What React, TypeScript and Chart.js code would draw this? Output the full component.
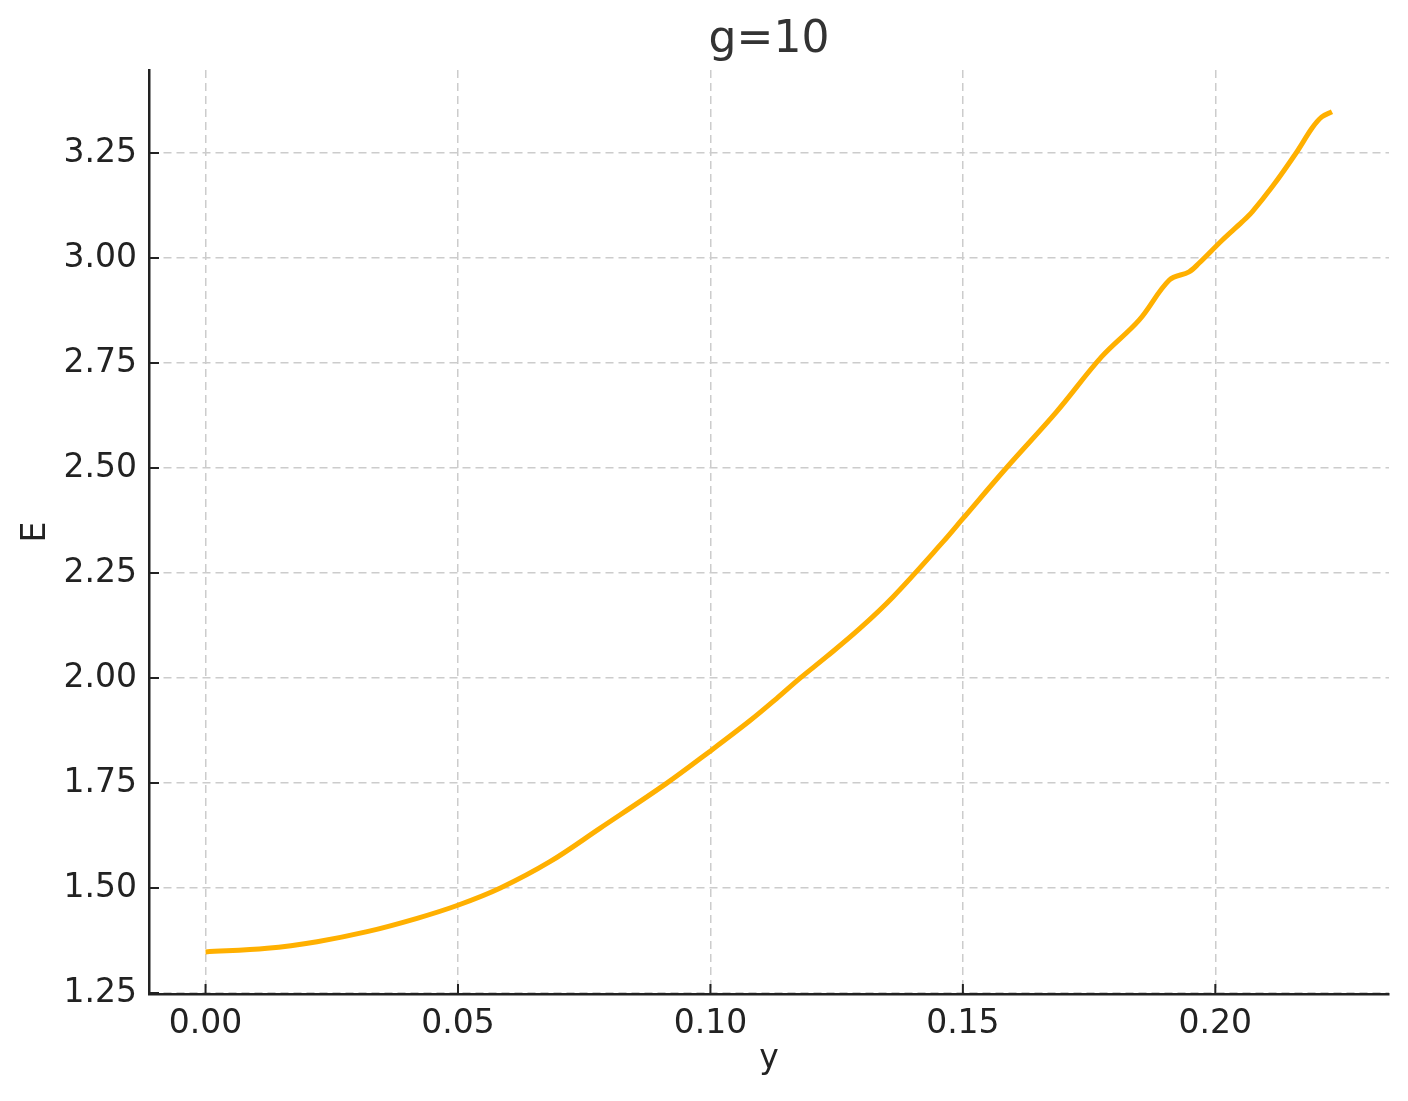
import React, { useEffect, useRef } from "react";
import { Chart, registerables } from "chart.js";

Chart.register(...registerables);

const xValues = [
  0, 0.0122, 0.0221, 0.032, 0.0419, 0.0501, 0.0584, 0.0682, 0.0781, 0.0913,
  0.0998, 0.1078, 0.1131, 0.1177, 0.123, 0.1296, 0.1362, 0.1461, 0.1499,
  0.1586, 0.1685, 0.1775, 0.1849, 0.1909, 0.1948, 0.1968, 0.2014, 0.2053, 0.2073,
  0.2113, 0.216, 0.2192, 0.2211, 0.2231,
];
const eValues = [
  1.3478, 1.3564, 1.3722, 1.396, 1.4278, 1.4595, 1.5, 1.5626, 1.642, 1.749,
  1.8245, 1.898, 1.951, 1.999, 2.0507, 2.118, 2.1936, 2.3245, 2.378,
  2.5, 2.633, 2.765, 2.852, 2.9476, 2.967, 2.988, 3.043, 3.086, 3.11,
  3.17, 3.25, 3.31, 3.336, 3.348,
];
const xTicks = [0, 0.05, 0.1, 0.15, 0.2];
const yTicks = [1.25, 1.5, 1.75, 2.0, 2.25, 2.5, 2.75, 3.0, 3.25];
const titleText = "g=10";
const xLabel = "y";
const yLabel = "E";

const FONT = "'DejaVu Sans', sans-serif";
const INK = "#222222";

const inwardTicks = {
  id: "inwardTicks",
  afterDraw(chart: any) {
    const { ctx, chartArea, scales } = chart;
    ctx.save();
    ctx.strokeStyle = INK;
    ctx.lineWidth = 2;
    ctx.beginPath();
    for (const t of scales.x.ticks) {
      const px = scales.x.getPixelForValue(t.value);
      ctx.moveTo(px, chartArea.bottom);
      ctx.lineTo(px, chartArea.bottom - 10);
    }
    for (const t of scales.y.ticks) {
      const py = scales.y.getPixelForValue(t.value);
      ctx.moveTo(chartArea.left, py);
      ctx.lineTo(chartArea.left + 10, py);
    }
    ctx.stroke();
    ctx.restore();
  },
};

export default function App() {
  const ref = useRef<HTMLCanvasElement | null>(null);
  useEffect(() => {
    document.body.style.margin = "0";
    const canvas = ref.current!;
    const data = xValues.map((x, i) => ({ x, y: eValues[i] }));
    const chart = new Chart(canvas, {
      type: "line",
      data: {
        datasets: [
          {
            data,
            borderColor: "#ffb000",
            borderWidth: 5,
            pointRadius: 0,
            tension: 0.35,
            fill: false,
          },
        ],
      },
      options: {
        animation: false,
        responsive: false,
        devicePixelRatio: 1,
        layout: { padding: { top: 0, right: 19, left: 0, bottom: 0 } },
        plugins: {
          legend: { display: false },
          tooltip: { enabled: false },
          title: {
            display: true,
            fullSize: false,
            text: titleText,
            color: "#333333",
            font: { family: FONT, size: 44, weight: "normal" },
            padding: { top: 14, bottom: 3.2 },
          },
        },
        scales: {
          x: {
            type: "linear",
            min: -0.0112,
            max: 0.2344,
            afterBuildTicks: (s: any) => {
              s.ticks = xTicks.map((v) => ({ value: v }));
            },
            afterFit: (s: any) => {
              s.height = 107;
            },
            grid: {
              color: "#cccccc",
              lineWidth: 1.5,
              drawTicks: false,
            },
            border: { display: true, color: INK, width: 2.5, dash: [8, 5] },
            ticks: {
              color: INK,
              padding: 11,
              font: { family: FONT, size: 33 },
              callback: (v: any) => Number(v).toFixed(2),
              maxRotation: 0,
            },
            title: {
              display: true,
              text: xLabel,
              color: INK,
              font: { family: FONT, size: 33 },
              padding: { bottom: 21.7, top: 0 },
            },
          },
          y: {
            type: "linear",
            min: 1.2476,
            max: 3.4476,
            afterBuildTicks: (s: any) => {
              s.ticks = yTicks.map((v) => ({ value: v }));
            },
            afterFit: (s: any) => {
              s.width = 149;
            },
            grid: {
              color: "#cccccc",
              lineWidth: 1.5,
              drawTicks: false,
            },
            border: { display: true, color: INK, width: 2.5, dash: [8, 5] },
            ticks: {
              color: INK,
              padding: 12,
              font: { family: FONT, size: 33 },
              callback: (v: any) => Number(v).toFixed(2),
            },
            title: {
              display: true,
              text: yLabel,
              color: INK,
              font: { family: FONT, size: 33 },
              padding: { top: 16.7, bottom: 0 },
            },
          },
        },
      },
      plugins: [inwardTicks],
    });
    return () => chart.destroy();
  }, []);
  return (
    <div style={{ width: 1408, height: 1101, background: "#ffffff" }}>
      <canvas ref={ref} width={1408} height={1101} />
    </div>
  );
}
